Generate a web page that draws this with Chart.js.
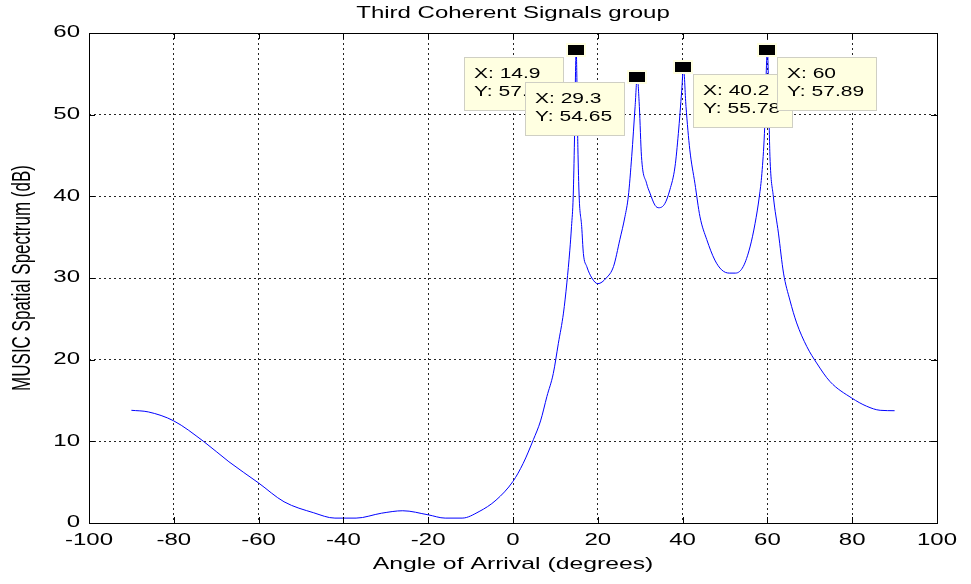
<!DOCTYPE html>
<html>
<head>
<meta charset="utf-8">
<script src="https://cdn.jsdelivr.net/npm/chart.js@4/dist/chart.umd.min.js"></script>
<style>
  html, body { margin: 0; padding: 0; background: #ffffff; }
  #c { display: block; }
</style>
</head>
<body>
<canvas id="c" width="971" height="584"></canvas>
<script>
// ---------- data ----------
const chartTitle = 'Third Coherent Signals group';
const xAxisTitle = 'Angle of Arrival (degrees)';
const yAxisTitle = 'MUSIC Spatial Spectrum (dB)';

const angles = [
  -90, -86, -80, -73, -67, -60, -54, -47, -42, -37, -31, -26, -20, -16, -12, -8, -4, 0,
  2.4, 4.8, 6.5, 8, 9.5, 10.7, 11.9, 12.7, 13.4, 13.8, 14.2, 14.5, 14.9,
  15.3, 15.6, 16.2, 16.6, 17.4, 18.6, 20, 22, 23.7, 25.2, 26.4, 27.2, 28, 28.8, 29.3,
  29.8, 30.3, 31.5, 32.3, 33.5, 34.4, 35.8, 37, 38.2, 39, 39.8, 40.2,
  40.8, 41.7, 42.9, 44.1, 45.7, 47.6, 49.2, 51, 52.5, 54.3, 55.9, 57.1, 58.1, 58.7, 59.3, 60,
  60.6, 61.4, 62.6, 63.8, 65.3, 66.9, 69.3, 71.6, 74.8, 79.9, 83.4, 86.6, 90
];
const spectrumDb = [
  13.8, 13.6, 12.5, 10.0, 7.5, 4.9, 2.6, 1.25, 0.6, 0.6, 1.2, 1.5, 1.0, 0.6, 0.6, 1.4, 2.8, 5.1,
  7.3, 10.2, 12.5, 15.5, 18.3, 22.0, 25.7, 29.4, 33.4, 36.3, 40.0, 46.9, 57.87,
  46.0, 40.0, 36.3, 33.0, 31.4, 30.0, 29.3, 30.0, 31.4, 34.7, 37.5, 40.0, 44.9, 51.0, 54.65,
  51.0, 44.9, 41.6, 40.4, 38.9, 38.6, 39.1, 40.8, 43.6, 47.7, 53.0, 55.78,
  51.0, 45.7, 41.6, 37.5, 34.7, 32.2, 31.0, 30.6, 30.6, 31.4, 33.8, 36.7, 40.0, 42.8, 47.7, 57.89,
  44.9, 40.0, 35.5, 30.6, 27.3, 24.5, 21.6, 19.6, 17.3, 15.3, 14.3, 13.8, 13.75
];

// data tips (cursor labels)
const tipX = [14.9, 29.3, 40.2, 60];
const tipY = [57.87, 54.65, 55.78, 57.89];
const tipLabelX = ['14.9', '29.3', '40.2', '60'];
const tipLabelY = ['57.87', '54.65', '55.78', '57.89'];

const xTickMin = -100, xTickMax = 100, xTickStep = 20;
const yTickMin = 0, yTickMax = 60, yTickStep = 10;

// ---------- horizontal text stretch (the reference text is widened) ----------
const SX = 1.5;
const origFillText = CanvasRenderingContext2D.prototype.fillText;
CanvasRenderingContext2D.prototype.fillText = function (text, x, y, maxWidth) {
  const m = this.getTransform();
  const p = m.transformPoint(new DOMPoint(x, y));
  this.save();
  const s = new DOMMatrix().translate(p.x, p.y).scale(SX, 1).translate(-p.x, -p.y).multiply(m);
  this.setTransform(s);
  if (maxWidth === undefined) origFillText.call(this, text, x, y);
  else origFillText.call(this, text, x, y, maxWidth);
  this.restore();
};

const FONT = '"Liberation Sans", Arial, Helvetica, sans-serif';

const decorPlugin = {
  id: 'decor',
  afterDatasetsDraw(chart) {
    const ctx = chart.ctx;
    const a = chart.chartArea;
    const xs = chart.scales.x, ys = chart.scales.y;
    ctx.save();
    // axes box
    ctx.strokeStyle = '#000';
    ctx.lineWidth = 1;
    ctx.setLineDash([]);
    ctx.strokeRect(Math.round(a.left) + 0.5, Math.round(a.top) + 0.5,
                   Math.round(a.right - a.left), Math.round(a.bottom - a.top));
    // inner tick marks
    const TL = 6;
    ctx.beginPath();
    xs.ticks.forEach(t => {
      const px = Math.round(xs.getPixelForValue(t.value)) + 0.5;
      ctx.moveTo(px, a.bottom); ctx.lineTo(px, a.bottom - TL);
      ctx.moveTo(px, a.top); ctx.lineTo(px, a.top + TL);
    });
    ys.ticks.forEach(t => {
      const py = Math.round(ys.getPixelForValue(t.value)) + 0.5;
      ctx.moveTo(a.left, py); ctx.lineTo(a.left + TL, py);
      ctx.moveTo(a.right, py); ctx.lineTo(a.right - TL, py);
    });
    ctx.stroke();

    // title
    ctx.fillStyle = '#000';
    ctx.font = '16px ' + FONT;
    ctx.textAlign = 'center';
    ctx.textBaseline = 'middle';
    ctx.fillText(chartTitle, (a.left + a.right) / 2, 14);

    // markers
    for (let i = 0; i < tipX.length; i++) {
      const px = xs.getPixelForValue(tipX[i]);
      const py = ys.getPixelForValue(tipY[i]);
      ctx.fillStyle = '#FFFFE1';
      ctx.fillRect(Math.round(px) - 10, Math.round(py) - 7, 20, 14);
      ctx.fillStyle = '#000';
      ctx.fillRect(Math.round(px) - 8, Math.round(py) - 5, 16, 10);
    }
    // boxes
    const W = 100, H = 54;
    const sides = ['left', 'left', 'right', 'right'];
    const dy = [7, 5, 7, 6.5];
    for (let i = 0; i < tipX.length; i++) {
      const px = xs.getPixelForValue(tipX[i]);
      const py = ys.getPixelForValue(tipY[i]);
      const bx = Math.round(sides[i] === 'left' ? px - 12 - W : px + 10);
      const by = Math.round(py + dy[i]);
      ctx.fillStyle = '#FFFFE1';
      ctx.fillRect(bx, by, W, H);
      ctx.strokeStyle = '#CFCFC4';
      ctx.lineWidth = 1;
      ctx.strokeRect(bx + 0.5, by + 0.5, W - 1, H - 1);
      ctx.fillStyle = '#000';
      ctx.font = '14px ' + FONT;
      ctx.textAlign = 'left';
      ctx.textBaseline = 'middle';
      ctx.fillText('X: ' + tipLabelX[i], bx + 10, by + 17);
      ctx.fillText('Y: ' + tipLabelY[i], bx + 10, by + 35);
    }
    ctx.restore();
  }
};

const points = angles.map((a, i) => ({ x: a, y: spectrumDb[i] }));

new Chart(document.getElementById('c'), {
  type: 'line',
  data: {
    datasets: [{
      data: points,
      borderColor: '#0000FF',
      borderWidth: 1,
      pointRadius: 0,
      fill: false,
      cubicInterpolationMode: 'monotone'
    }]
  },
  options: {
    responsive: false,
    animation: false,
    events: [],
    layout: { padding: { left: 0, top: 33, right: 34, bottom: 0 } },
    plugins: { legend: { display: false }, tooltip: { enabled: false }, title: { display: false } },
    scales: {
      x: {
        type: 'linear',
        min: xTickMin, max: xTickMax,
        afterFit(s) { s.height = 61; },
        border: { display: false, dash: [2, 3] },
        grid: { color: 'rgba(0,0,0,0.85)', lineWidth: 1, drawTicks: false },
        ticks: { stepSize: xTickStep, color: '#000', font: { size: 16, family: FONT }, padding: 8, maxRotation: 0, autoSkip: false },
        title: { display: true, text: xAxisTitle, color: '#000', font: { size: 16.5, family: FONT }, padding: { top: 0, bottom: 10 } }
      },
      y: {
        min: yTickMin, max: yTickMax,
        afterFit(s) { s.width = 89; },
        border: { display: false, dash: [2, 3] },
        grid: { color: 'rgba(0,0,0,0.85)', lineWidth: 1, drawTicks: false },
        ticks: { stepSize: yTickStep, color: '#000', font: { size: 16, family: FONT }, padding: 9 },
        title: { display: true, text: yAxisTitle, color: '#000', font: { size: 17, family: FONT }, padding: { top: 13, bottom: 0 } }
      }
    }
  },
  plugins: [decorPlugin]
});
</script>
</body>
</html>
